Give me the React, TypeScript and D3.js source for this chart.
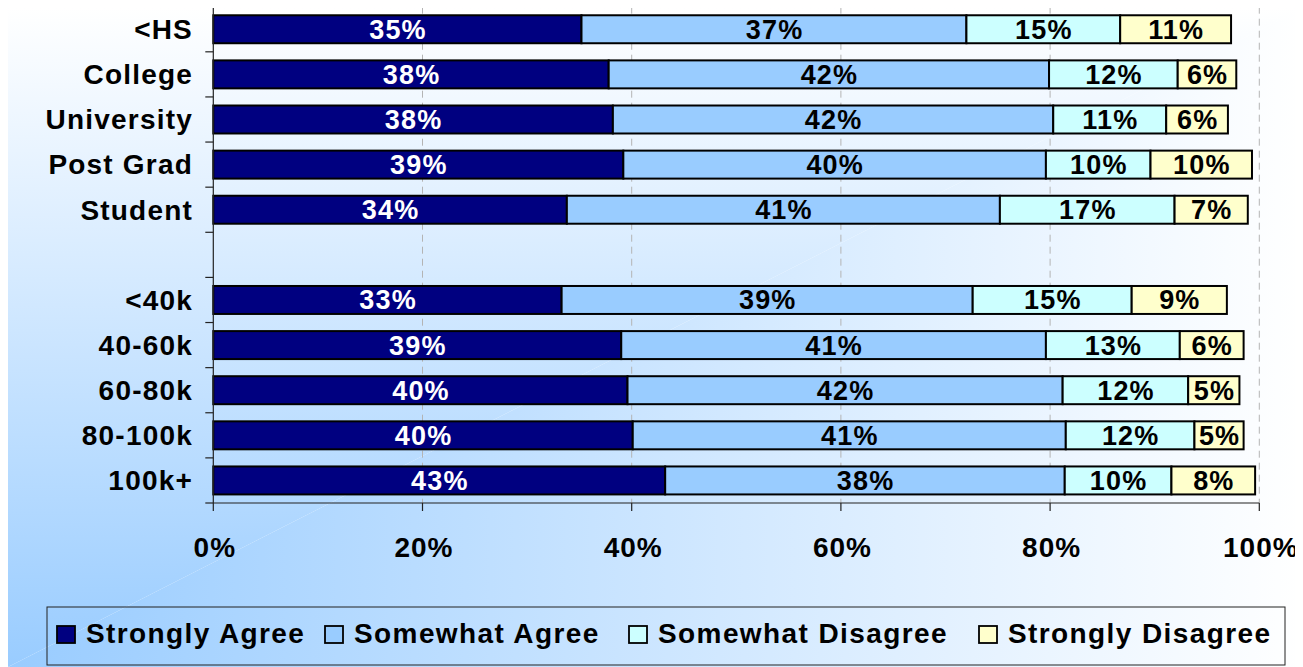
import React from "react";
import * as d3 from "d3";

const categories = ["<HS", "College", "University", "Post Grad", "Student", "", "<40k", "40-60k", "60-80k", "80-100k", "100k+"];
const seriesNames = ["Strongly Agree", "Somewhat Agree", "Somewhat Disagree", "Strongly Disagree"];
const stronglyAgree = [35.2, 37.8, 38.2, 39.2, 33.8, null, 33.3, 39.0, 39.6, 40.1, 43.2];
const somewhatAgree = [36.8, 42.1, 42.1, 40.4, 41.4, null, 39.3, 40.6, 41.6, 41.4, 38.2];
const somewhatDisagree = [14.7, 12.3, 10.8, 10.0, 16.7, null, 15.2, 12.8, 12.0, 12.3, 10.2];
const stronglyDisagree = [10.6, 5.6, 5.9, 9.7, 7.0, null, 9.1, 6.1, 4.9, 4.7, 8.0];
const xTicks = [0, 20, 40, 60, 80, 100];

const colors = ["#000080", "#99ccff", "#ccffff", "#ffffcc"];
const labelColors = ["#ffffff", "#000000", "#000000", "#000000"];
const FONT = "'Liberation Sans', Arial, Helvetica, sans-serif";

export default function App() {
  const W = 1295;
  const H = 659;
  const OX = 8; // page offset (body margin)
  const OY = 8;

  const seriesValues = [stronglyAgree, somewhatAgree, somewhatDisagree, stronglyDisagree];
  const rows = categories.map((c, i) => {
    const o: any = { cat: c };
    seriesNames.forEach((s, k) => (o[s] = seriesValues[k][i] ?? 0));
    o.empty = seriesValues[0][i] == null;
    return o;
  });
  const stacked = d3.stack<any>().keys(seriesNames)(rows);

  const x = d3.scaleLinear().domain([0, 100]).range([213.3, 1259.3]);
  const y = d3
    .scaleBand<string>()
    .domain(categories.map((c, i) => i + ""))
    .range([6.7, 503])
    .paddingInner(0.38)
    .paddingOuter(0.19);
  const step = y.step();
  const y0 = 6.7;
  const y1 = 503;
  const bw = y.bandwidth();

  const legendX = [57, 325, 629, 979];

  return (
    <svg width={W} height={H} style={{ display: "block" }} fontFamily={FONT}>
      <defs>
        <linearGradient id="gh" x1="0" y1="0" x2="1" y2="0">
          <stop offset="0" stopColor="#99ccff" />
          <stop offset="1" stopColor="#ffffff" />
        </linearGradient>
        <linearGradient id="gv" x1="0" y1="1" x2="0" y2="0">
          <stop offset="0" stopColor="#99ccff" />
          <stop offset="1" stopColor="#ffffff" />
        </linearGradient>
        <clipPath id="cTL">
          <polygon points={`0,0 ${W},0 0,${H}`} />
        </clipPath>
        <clipPath id="cBR">
          <polygon points={`${W},0 ${W},${H} 0,${H}`} />
        </clipPath>
      </defs>
      <rect x={0} y={0} width={W} height={H} fill="url(#gv)" clipPath="url(#cTL)" />
      <rect x={0} y={0} width={W} height={H} fill="url(#gh)" clipPath="url(#cBR)" />
      <g transform={`translate(${-OX},${-OY})`}>
        {xTicks.slice(1).map((t) => (
          <line key={"g" + t} x1={x(t)} x2={x(t)} y1={y0} y2={y1} stroke="#b4b4b4" strokeWidth={1} strokeDasharray="7,5" />
        ))}
        {stacked.map((layer, k) => (
          <g key={layer.key}>
            {layer.map((d, i) =>
              rows[i].empty ? null : (
                <rect
                  key={i}
                  x={x(d[0])}
                  y={y(i + "")}
                  width={x(d[1]) - x(d[0])}
                  height={bw}
                  fill={colors[k]}
                  stroke="#000"
                  strokeWidth={2}
                />
              )
            )}
          </g>
        ))}
        {stacked.map((layer, k) => (
          <g key={"l" + layer.key}>
            {layer.map((d, i) =>
              rows[i].empty ? null : (
                <text
                  key={i}
                  x={(x(d[0]) + x(d[1])) / 2 + 0.6}
                  y={(y(i + "") as number) + bw / 2 + 9.5}
                  textAnchor="middle"
                  fontSize={27}
                  fontWeight="bold"
                  letterSpacing={1.2}
                  fill={labelColors[k]}
                >
                  {Math.round(seriesValues[k][i] as number) + "%"}
                </text>
              )
            )}
          </g>
        ))}
        <line x1={x(0)} x2={x(0)} y1={y0} y2={y1} stroke="#222" strokeWidth={1.2} />
        <line x1={x(0)} x2={x(100)} y1={y1} y2={y1} stroke="#222" strokeWidth={1.2} />
        {d3.range(categories.length + 1).map((i) => (
          <line key={"yt" + i} x1={x(0) - 8} x2={x(0)} y1={y0 + i * step} y2={y0 + i * step} stroke="#222" strokeWidth={1.2} />
        ))}
        {xTicks.map((t) => (
          <g key={"xt" + t}>
            <line x1={x(t)} x2={x(t)} y1={y1} y2={y1 + 8} stroke="#222" strokeWidth={1.2} />
            <text x={x(t) + 1.5} y={557} textAnchor="middle" fontSize={28} fontWeight="bold" letterSpacing={1}>
              {t + "%"}
            </text>
          </g>
        ))}
        {categories.map((c, i) => (
          <text
            key={"c" + i}
            x={193}
            y={(y(i + "") as number) + bw / 2 + 9.8}
            textAnchor="end"
            fontSize={28}
            fontWeight="bold"
            letterSpacing={1.2}
          >
            {c}
          </text>
        ))}
        <rect x={47} y={607} width={1238} height={58} fill="none" stroke="#222" strokeWidth={1} />
        {seriesNames.map((s, k) => (
          <g key={"lg" + s}>
            <rect x={legendX[k]} y={626} width={18} height={17} fill={colors[k]} stroke="#000" strokeWidth={1.8} />
            <text x={legendX[k] + 29} y={643} fontSize={28} fontWeight="bold" letterSpacing={1.4}>
              {s}
            </text>
          </g>
        ))}
      </g>
    </svg>
  );
}
